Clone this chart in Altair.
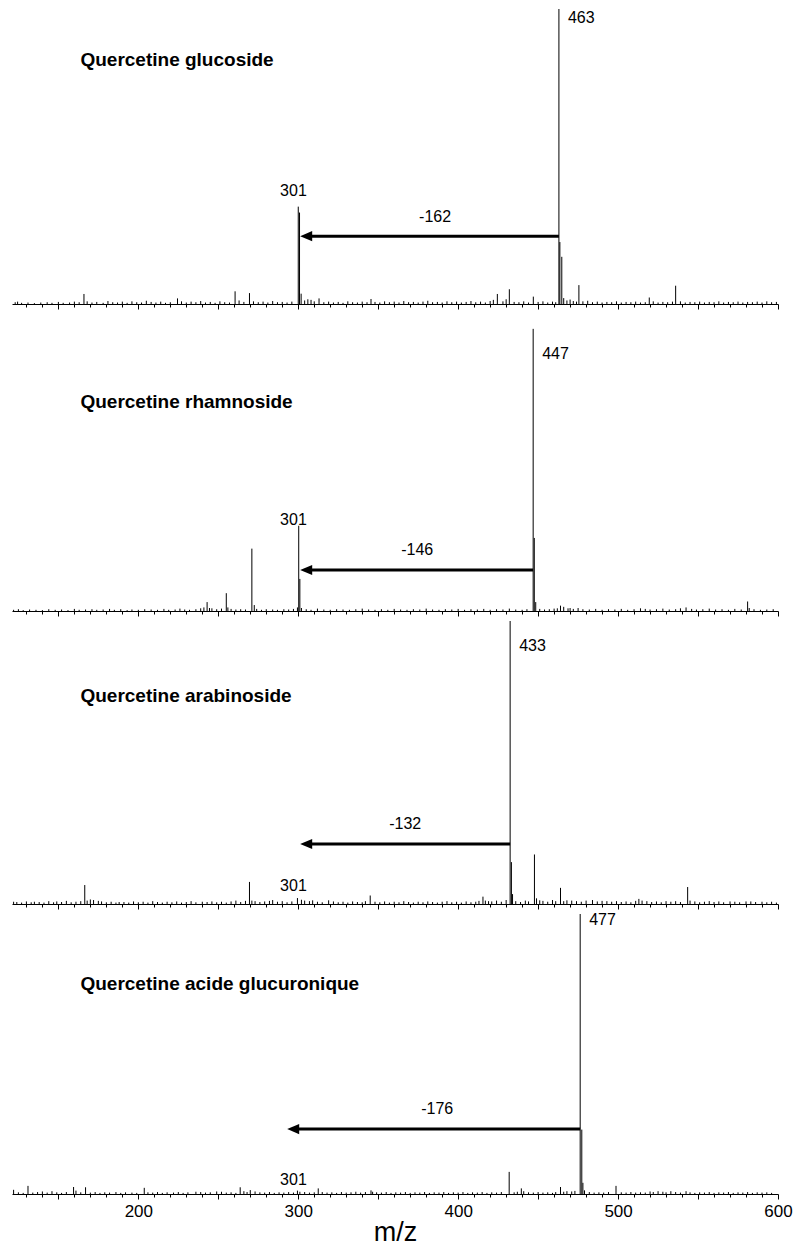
import altair as alt
import pandas as pd

X_DOMAIN = [121, 600]
TICKS = list(range(130, 601, 10))
FONT = "Liberation Sans"

names = ["Quercetine glucoside", "Quercetine rhamnoside",
         "Quercetine arabinoside", "Quercetine acide glucuronique"]
parent_mz = [463.0, 446.9, 432.5, 476.3]
parent_text = ["463", "447", "433", "477"]
parent_text_y = [96.8, 86.5, 91.0, 98.0]
frag_text_x = [297.0, 297.0, 297.0, 297.0]
frag_text_y = [38.2, 30.6, 6.4, 5.0]
loss_text = ["-162", "-146", "-132", "-176"]
loss_text_x = [385.6, 374.4, 366.9, 386.9]
loss_text_y = [29.5, 20.5, 28.3, 30.4]
arrow_y = [23.0, 13.8, 21.2, 23.2]
arrow_tip = [301.2, 301.2, 301.2, 293.1]
title_x = [163.8, 163.8, 163.8, 163.8]
title_y = [82.8, 70.4, 73.5, 75.0]
panel_h = [295, 297, 283, 280]

# panel 1 : glucoside
p1_peaks = [(166, 3.4), (224.5, 1.9), (260.5, 4.3), (269.5, 3.7), (300.0, 33), (300.8, 31),
            (301.8, 3.5), (313, 1.9), (345.5, 1.7), (424.5, 3.4), (432, 5.0), (447, 2.5),
            (463, 100), (463.6, 21), (464.8, 16), (466, 2.0), (475.5, 6.4), (519.5, 2.2), (536, 6.2)]
p1_noise = [(123, 0.6), (124.5, 0.8), (127, 0.4), (131, 0.5), (135, 0.3), (139, 0.5), (143, 0.6), (146, 0.4),
            (150, 0.7), (153, 0.4), (157, 0.5), (160, 0.8), (163, 0.6), (168, 0.9), (171, 0.5), (174, 0.7),
            (178, 0.4), (181, 1.0), (184, 0.6), (187, 0.5), (190, 0.8), (193, 0.4), (196, 0.9), (199, 0.6),
            (202, 0.5), (205, 1.1), (208, 0.7), (211, 0.5), (214, 0.8), (217, 0.4), (220, 0.6), (227, 0.9),
            (230, 0.5), (233, 0.8), (236, 0.6), (239, 1.0), (242, 0.5), (245, 0.7), (248, 0.4), (251, 0.9),
            (254, 0.6), (257, 0.5), (263, 1.2), (266, 0.7), (272, 0.9), (275, 0.6), (278, 0.8), (281, 0.5),
            (284, 1.0), (287, 0.6), (290, 0.7), (293, 0.5), (296, 0.8), (304, 1.2), (306, 1.6), (308, 1.4),
            (310, 0.9), (316, 0.6), (319, 0.8), (322, 0.5), (325, 0.7), (328, 0.4), (331, 0.9), (334, 0.6),
            (337, 0.5), (340, 0.8), (343, 0.6), (348, 0.7), (351, 0.5), (354, 0.9), (357, 0.6), (360, 0.8),
            (363, 0.5), (366, 1.0), (369, 0.6), (372, 0.7), (375, 0.5), (378, 0.8), (381, 1.1), (384, 0.6),
            (387, 0.7), (390, 0.5), (393, 0.9), (396, 0.6), (399, 0.8), (402, 0.5), (405, 0.7), (408, 1.0),
            (411, 0.6), (414, 0.8), (417, 0.5), (420, 1.0), (422, 1.4), (428, 0.9), (430, 1.6), (435, 0.7),
            (438, 0.6), (441, 0.9), (444, 0.5), (450, 0.7), (453, 0.9), (456, 0.5), (459, 0.8), (461, 0.6),
            (468, 1.2), (470, 1.5), (472, 1.0), (474, 0.8), (478, 0.9), (481, 1.1), (484, 0.6), (487, 0.8),
            (490, 0.5), (493, 0.7), (496, 0.6), (499, 0.9), (502, 0.5), (505, 0.7), (508, 0.6), (511, 0.8),
            (514, 0.5), (517, 0.6), (522, 0.9), (525, 0.5), (528, 0.7), (531, 0.6), (534, 0.8), (539, 0.9),
            (542, 0.5), (545, 0.7), (548, 0.6), (551, 0.8), (554, 0.5), (557, 0.7), (560, 0.6), (563, 0.9),
            (566, 0.5), (569, 0.7), (572, 0.6), (575, 0.8), (578, 0.5), (581, 0.7), (584, 0.6), (587, 0.8),
            (590, 0.5), (593, 0.9), (596, 0.6), (599, 0.7)]

# panel 2 : rhamnoside
p2_peaks = [(243, 3.0), (244.5, 1.0), (255, 6.0), (256, 1.2), (271, 21), (272.5, 2.0), (299.5, 1.2),
            (300.3, 28.7), (301, 10.8), (302, 1.0), (446.9, 95), (447.6, 24.6), (448.5, 3.0), (464, 1.8),
            (468.7, 0.9), (470, 1.0), (514, 0.9), (542.5, 1.2), (581, 3.2), (582, 1.0)]
p2_noise = [(122, 0.4), (125, 0.6), (128, 0.3), (132, 0.5), (136, 0.4), (140, 0.3), (144, 0.6), (148, 0.4),
            (152, 0.5), (156, 0.3), (160, 0.7), (163, 0.4), (167, 0.5), (171, 0.6), (174, 0.4), (178, 0.5),
            (182, 0.7), (185, 0.4), (189, 0.6), (193, 0.3), (196, 0.5), (200, 0.4), (204, 0.6), (208, 0.5),
            (212, 0.4), (216, 0.7), (219, 0.4), (223, 0.5), (226, 0.8), (229, 0.5), (232, 0.4), (236, 0.6),
            (239, 0.9), (241, 1.2), (246, 0.9), (249, 0.6), (252, 0.8), (258, 0.7), (261, 0.5), (264, 0.6),
            (267, 0.5), (274, 0.7), (277, 0.4), (280, 0.6), (284, 0.5), (287, 0.4), (291, 0.6), (294, 0.5),
            (297, 0.7), (305, 0.6), (308, 0.4), (312, 0.8), (316, 0.5), (320, 0.4), (324, 0.6), (328, 0.5),
            (332, 0.4), (336, 0.6), (340, 0.8), (344, 0.5), (348, 0.4), (352, 0.6), (356, 0.4), (360, 0.7),
            (364, 0.5), (368, 0.4), (372, 0.6), (376, 0.5), (380, 0.8), (384, 0.5), (388, 0.4), (392, 0.6),
            (396, 0.5), (400, 0.7), (404, 0.4), (408, 0.6), (412, 0.5), (416, 0.7), (420, 0.4), (424, 0.6),
            (428, 0.5), (432, 0.8), (436, 0.5), (440, 0.4), (443, 0.6), (451, 0.7), (454, 0.5), (457, 0.6),
            (460, 0.8), (462, 0.9), (466, 1.4), (472, 0.7), (475, 1.0), (478, 0.6), (482, 0.5), (486, 0.7),
            (490, 0.4), (494, 0.6), (498, 0.5), (502, 0.7), (506, 0.4), (510, 0.6), (517, 0.7), (520, 0.5),
            (524, 0.6), (528, 0.8), (532, 0.5), (536, 0.6), (539, 0.9), (546, 0.7), (549, 0.5), (553, 0.6),
            (557, 0.8), (561, 0.5), (565, 0.6), (569, 0.4), (573, 0.7), (577, 0.5), (585, 0.6), (589, 0.4),
            (593, 0.5), (597, 0.6)]

# panel 3 : arabinoside
p3_peaks = [(122, 0.8), (135, 0.8), (149, 0.9), (166.5, 6.7), (172, 1.4), (175, 1.1), (188, 0.7), (240, 0.8),
            (269.5, 7.8), (271, 1.2), (282, 1.1), (284, 1.4), (299.5, 2.1), (304, 1.2), (319, 1.3), (345, 3.0),
            (415.5, 2.6), (417, 1.2), (419, 1.0), (432.5, 100), (433.3, 14.8), (434, 3.5), (447.7, 17.5),
            (449, 2.0), (451, 1.3), (464, 5.7), (466, 1.0), (471, 1.2), (484, 1.4), (493, 1.0), (511, 1.1),
            (513, 1.8), (515, 1.2), (530, 1.0), (543.5, 6.0), (545, 1.2), (570, 0.9), (580, 0.9), (590, 0.8)]
p3_noise = [(124, 0.7), (127, 0.5), (130, 0.9), (133, 0.6), (138, 0.7), (141, 0.5), (144, 1.0), (147, 0.6),
            (152, 0.7), (155, 1.1), (158, 0.6), (161, 0.8), (164, 1.0), (168, 1.2), (170, 1.6), (177, 0.9),
            (180, 0.6), (183, 0.8), (186, 0.5), (191, 0.7), (194, 0.5), (197, 0.9), (200, 0.6), (203, 0.8),
            (206, 0.5), (209, 1.0), (212, 0.7), (215, 0.5), (218, 0.8), (221, 0.6), (224, 0.9), (227, 0.5),
            (230, 0.7), (233, 1.0), (236, 0.6), (243, 0.7), (246, 0.9), (249, 0.6), (252, 0.8), (255, 0.5),
            (258, 0.9), (261, 1.2), (264, 0.7), (267, 1.1), (273, 1.0), (276, 0.7), (279, 0.9), (287, 0.8),
            (290, 1.0), (293, 0.6), (296, 0.9), (302, 1.5), (307, 1.0), (309, 1.3), (312, 0.8), (315, 0.6),
            (322, 0.9), (325, 0.6), (328, 0.8), (331, 0.5), (334, 0.9), (337, 0.7), (340, 0.6), (342, 1.0),
            (348, 0.8), (351, 0.6), (354, 0.9), (357, 0.5), (360, 0.8), (363, 0.6), (366, 1.0), (369, 0.7),
            (372, 0.5), (375, 0.8), (378, 0.6), (381, 0.9), (384, 0.7), (387, 0.5), (390, 0.8), (393, 1.0),
            (396, 0.6), (399, 0.8), (402, 0.5), (405, 0.9), (408, 0.6), (411, 0.8), (413, 1.1), (421, 0.9),
            (424, 1.2), (427, 0.8), (430, 1.4), (436, 1.0), (439, 0.7), (442, 1.2), (444, 0.9), (453, 1.1),
            (456, 0.8), (459, 1.4), (461, 1.0), (468, 1.3), (474, 1.0), (477, 0.8), (480, 1.2), (487, 0.9),
            (490, 1.1), (496, 0.8), (499, 1.0), (502, 0.7), (505, 0.9), (508, 0.6), (518, 1.0), (521, 0.7),
            (524, 0.9), (527, 0.6), (533, 0.8), (536, 1.0), (539, 0.7), (548, 0.9), (551, 0.6), (554, 0.8),
            (557, 1.0), (560, 0.7), (563, 0.9), (566, 0.6), (573, 0.8), (576, 0.6), (583, 0.9), (586, 0.7),
            (593, 0.6), (596, 0.8), (599, 0.5)]

# panel 4 : acide glucuronique
p4_peaks = [(122, 1.5), (131, 2.9), (140, 0.9), (146, 1.0), (159.5, 2.5), (161, 1.2), (167, 2.4),
            (203.7, 2.2), (236, 0.8), (249, 0.9), (263.7, 2.4), (266, 1.0), (270, 1.4), (299.5, 1.2),
            (301, 0.8), (312.5, 2.0), (345.5, 1.3), (346.5, 0.8), (431.9, 7.9), (439.5, 2.0), (441, 1.0),
            (464, 2.5), (468, 1.0), (476.3, 100), (477.3, 23), (478, 4.0), (479, 1.3), (498.7, 2.9),
            (520, 0.9), (525, 1.0), (533, 1.0), (542.5, 1.0)]
p4_noise = [(125, 0.6), (128, 0.4), (134, 0.5), (137, 0.7), (143, 0.5), (149, 0.6), (152, 0.4), (155, 0.7),
            (164, 0.6), (170, 0.5), (173, 0.7), (176, 0.4), (179, 0.6), (182, 0.5), (186, 0.7), (189, 0.4),
            (192, 0.6), (196, 0.5), (199, 0.4), (206, 0.6), (209, 0.5), (212, 0.7), (215, 0.4), (218, 0.6),
            (222, 0.5), (225, 0.7), (228, 0.4), (231, 0.6), (239, 0.7), (242, 0.5), (245, 0.6), (252, 0.8),
            (255, 0.5), (258, 0.6), (261, 0.4), (268, 0.7), (273, 0.9), (276, 0.6), (279, 0.5), (282, 0.7),
            (285, 0.4), (288, 0.6), (291, 0.5), (294, 0.7), (297, 0.5), (304, 0.7), (307, 0.5), (310, 0.6),
            (315, 0.7), (318, 0.5), (321, 0.6), (324, 0.4), (327, 0.7), (330, 0.5), (333, 0.6), (336, 0.8),
            (339, 0.5), (342, 0.7), (349, 0.6), (352, 0.5), (355, 0.7), (358, 0.4), (361, 0.6), (364, 0.5),
            (367, 0.7), (370, 0.4), (373, 0.6), (376, 0.5), (379, 0.7), (382, 0.4), (385, 0.6), (388, 0.5),
            (391, 0.7), (394, 0.4), (397, 0.6), (400, 0.5), (403, 0.7), (406, 0.4), (409, 0.6), (412, 0.5),
            (415, 0.7), (418, 0.4), (421, 0.6), (424, 0.5), (427, 0.7), (435, 0.6), (437, 0.8), (444, 0.6),
            (447, 0.5), (450, 0.7), (453, 0.5), (456, 0.6), (459, 0.4), (461, 0.7), (466, 0.8), (471, 0.9),
            (473, 1.1), (482, 0.7), (485, 0.5), (488, 0.6), (491, 0.5), (494, 0.7), (502, 0.6), (505, 0.5),
            (508, 0.7), (511, 0.5), (514, 0.6), (517, 0.5), (522, 0.7), (528, 0.8), (530, 0.6), (536, 0.7),
            (539, 0.5), (545, 0.6), (548, 0.4), (551, 0.6), (554, 0.5), (557, 0.7), (560, 0.4), (563, 0.6),
            (566, 0.5), (569, 0.7), (572, 0.4), (575, 0.6), (578, 0.5), (581, 0.7), (584, 0.4), (587, 0.6),
            (590, 0.5), (593, 0.6), (596, 0.4)]

all_peaks = [p1_peaks + p1_noise, p2_peaks + p2_noise, p3_peaks + p3_noise, p4_peaks + p4_noise]

tick_size = {"condition": {"test": "datum.value % 50 === 0", "value": 5}, "value": 3}
PAD = {"left": 4, "top": 0, "right": 0, "bottom": 0}


def make_axis(bottom):
    common = dict(values=TICKS, domainColor="black", domainWidth=1, tickColor="black",
                  tickWidth=1, tickSize=tick_size, grid=False, labelFlush=False, labelOverlap=False)
    if bottom:
        return alt.Axis(labelExpr="datum.value % 100 === 0 ? datum.label : ''", title="m/z",
                        labelFont=FONT, labelFontSize=17, labelColor="black", labelPadding=4,
                        titleFont=FONT, titleFontSize=27, titleFontWeight="normal", titleColor="black",
                        titlePadding=0, **common)
    return alt.Axis(labels=False, title=None, **common)


def panel(i):
    bottom = i == 3
    xs = alt.Scale(domain=X_DOMAIN, nice=False, zero=False)
    ys = alt.Scale(domain=[0, 100], nice=False)
    ax = make_axis(bottom)
    df = pd.DataFrame(all_peaks[i], columns=["mz", "inten"])
    df["base"] = 0
    bars = alt.Chart(df).mark_rule(color="black", strokeWidth=1).encode(
        x=alt.X("mz:Q", scale=xs, axis=ax),
        y=alt.Y("inten:Q", scale=ys, axis=None),
        y2="base:Q",
    )
    arrow_df = pd.DataFrame({"x": [parent_mz[i]], "x2": [arrow_tip[i]], "y": [arrow_y[i]]})
    arrow = alt.Chart(arrow_df).mark_rule(color="black", strokeWidth=3, x2Offset=6).encode(
        x=alt.X("x:Q", scale=xs, axis=ax), x2="x2:Q", y=alt.Y("y:Q", scale=ys, axis=None))
    head = alt.Chart(arrow_df).mark_point(
        shape="M -1 0 L 1 -0.85 L 1 0.85 Z", filled=True, size=144, color="black",
        opacity=1, xOffset=6, strokeWidth=0).encode(
        x=alt.X("x2:Q", scale=xs, axis=ax), y=alt.Y("y:Q", scale=ys, axis=None))
    num_df = pd.DataFrame({"x": [frag_text_x[i], loss_text_x[i]],
                           "y": [frag_text_y[i], loss_text_y[i]],
                           "t": ["301", loss_text[i]]})
    nums = alt.Chart(num_df).mark_text(font=FONT, fontSize=16, color="black", align="center",
                                       baseline="middle").encode(
        x=alt.X("x:Q", scale=xs, axis=ax), y=alt.Y("y:Q", scale=ys, axis=None), text="t:N")
    par_df = pd.DataFrame({"x": [parent_mz[i]], "y": [parent_text_y[i]], "t": [parent_text[i]]})
    par = alt.Chart(par_df).mark_text(font=FONT, fontSize=16, color="black", align="left",
                                      baseline="middle", dx=9).encode(
        x=alt.X("x:Q", scale=xs, axis=ax), y=alt.Y("y:Q", scale=ys, axis=None), text="t:N")
    tit_df = pd.DataFrame({"x": [title_x[i]], "y": [title_y[i]], "t": [names[i]]})
    tit = alt.Chart(tit_df).mark_text(font=FONT, fontSize=19, fontWeight="bold", color="black",
                                      align="left", baseline="middle").encode(
        x=alt.X("x:Q", scale=xs, axis=ax), y=alt.Y("y:Q", scale=ys, axis=None), text="t:N")
    return alt.layer(bars, arrow, head, nums, par, tit).properties(width=766, height=panel_h[i])


chart = alt.vconcat(*[panel(i) for i in range(4)], spacing=10, bounds="flush").properties(
    padding=PAD
).configure(background="white", padding=PAD).configure_view(strokeWidth=0, stroke=None)

chart.save("out.html", embed_options={"renderer": "svg", "actions": False})
